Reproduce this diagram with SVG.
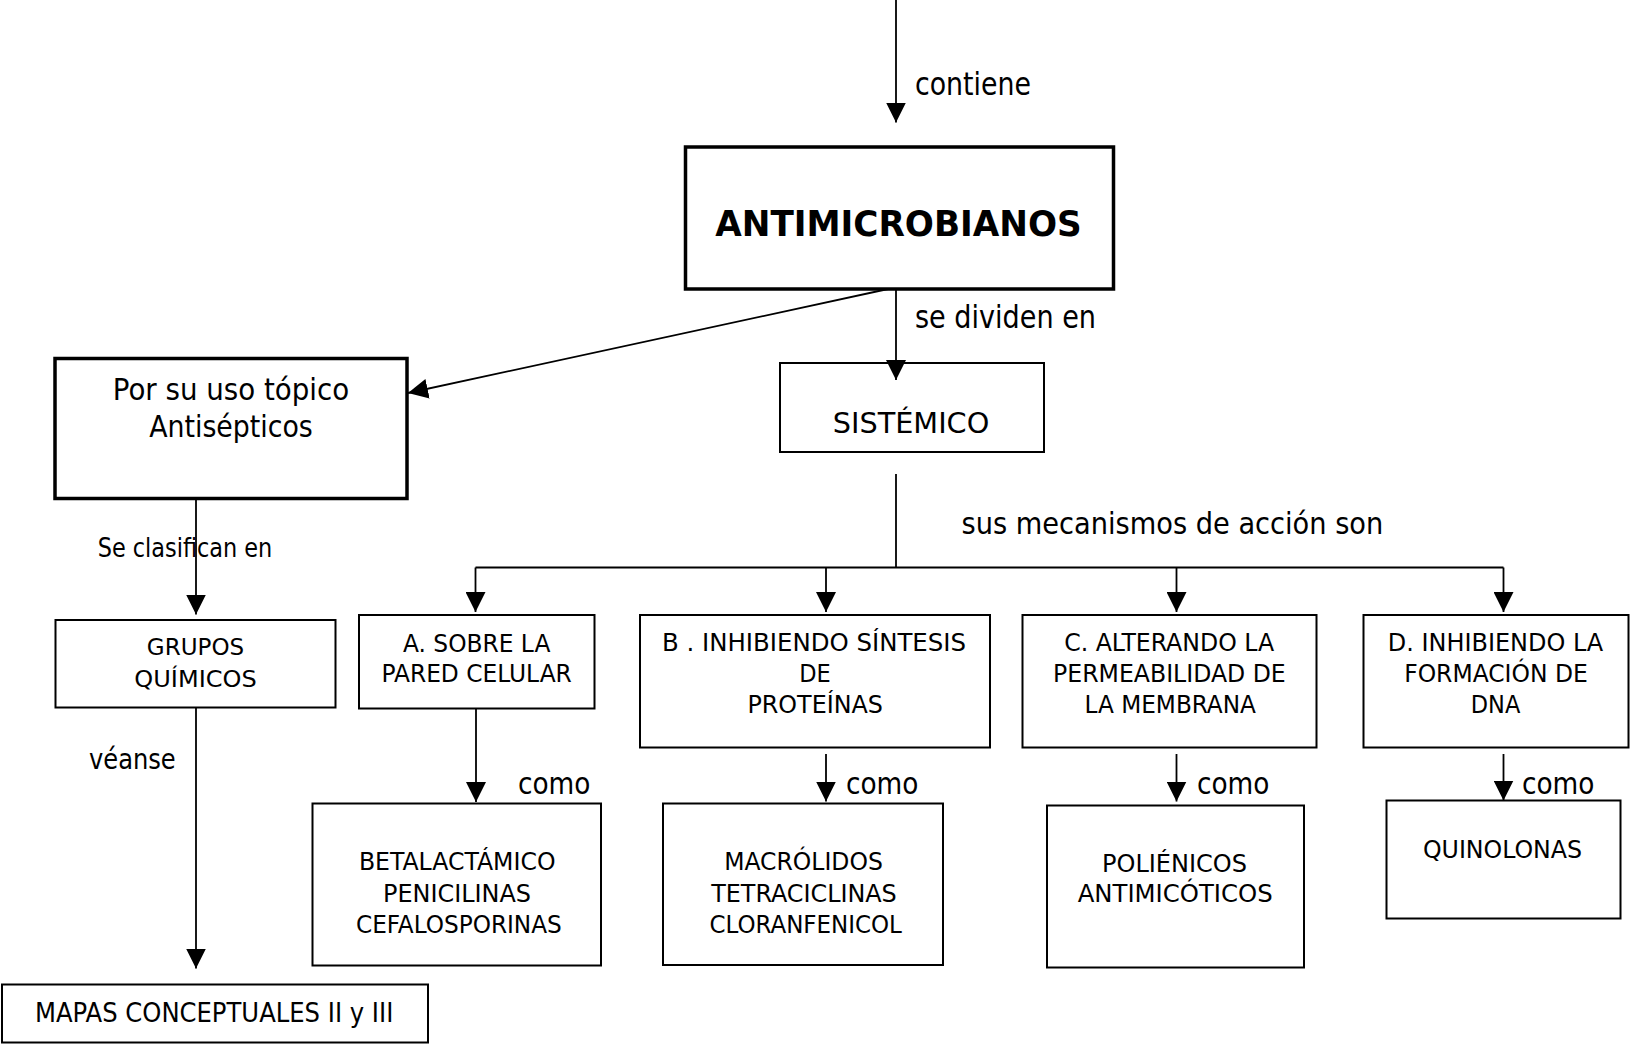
<svg xmlns="http://www.w3.org/2000/svg" width="1640" height="1044" viewBox="0 0 1640 1044">
  <style>
    .box { fill: #fff; stroke: #000; stroke-width: 2; }
    .heavy { stroke-width: 3.5; }
    .t { font-family: "DejaVu Sans Condensed", "DejaVu Sans", sans-serif; font-size: 25px; fill: #000; text-anchor: middle; }
    .lbl { font-family: "DejaVu Sans Condensed", "DejaVu Sans", sans-serif; font-size: 31px; fill: #000; }
    .wire { fill: none; stroke: #000; stroke-width: 1.8; }
  </style>
  <defs>
    <marker id="ah" markerUnits="userSpaceOnUse" markerWidth="20" markerHeight="20" viewBox="0 0 20 20" refX="20" refY="10" orient="auto">
      <path d="M0,0 L20,10 L0,20 Z" fill="#000"/>
    </marker>
  </defs>

  <rect width="1640" height="1044" fill="#fff"/>

  <g id="n-antimicrobianos">
    <rect class="box heavy" x="685.5" y="147" width="428" height="142"/>
    <text class="t" x="898.5" y="236" style="font-size:35px" font-weight="bold" textLength="366.5" lengthAdjust="spacingAndGlyphs">ANTIMICROBIANOS</text>
  </g>

  <g id="n-topico">
    <rect class="box heavy" x="55" y="358.5" width="352" height="140"/>
    <text class="t" x="231" y="400" style="font-size:29.5px" textLength="236.3" lengthAdjust="spacingAndGlyphs">Por su uso tópico</text>
    <text class="t" x="231" y="437.3" style="font-size:29.5px" textLength="163.7" lengthAdjust="spacingAndGlyphs">Antisépticos</text>
  </g>

  <g id="n-sistemico">
    <rect class="box" x="780" y="363" width="264" height="89"/>
    <text class="t" x="911" y="433.3" style="font-size:29px" textLength="156.5" lengthAdjust="spacingAndGlyphs">SISTÉMICO</text>
  </g>

  <g id="n-grupos">
    <rect class="box" x="55.5" y="620" width="280" height="87.5"/>
    <text class="t" x="195.5" y="655" style="font-size:23px" textLength="97.3" lengthAdjust="spacingAndGlyphs">GRUPOS</text>
    <text class="t" x="195.5" y="686.7" style="font-size:23px" textLength="122.4" lengthAdjust="spacingAndGlyphs">QUÍMICOS</text>
  </g>

  <g id="n-pared">
    <rect class="box" x="359" y="615" width="235.5" height="93.5"/>
    <text class="t" x="476.7" y="651.7" textLength="147.4" lengthAdjust="spacingAndGlyphs">A. SOBRE LA</text>
    <text class="t" x="476.7" y="681.7" textLength="190.3" lengthAdjust="spacingAndGlyphs">PARED CELULAR</text>
  </g>

  <g id="n-proteinas">
    <rect class="box" x="640" y="615" width="350" height="132.5"/>
    <text class="t" x="814" y="651" textLength="304" lengthAdjust="spacingAndGlyphs">B . INHIBIENDO SÍNTESIS</text>
    <text class="t" x="815" y="682">DE</text>
    <text class="t" x="815.2" y="713" textLength="135.5" lengthAdjust="spacingAndGlyphs">PROTEÍNAS</text>
  </g>

  <g id="n-membrana">
    <rect class="box" x="1022.5" y="615" width="294" height="132.5"/>
    <text class="t" x="1169.2" y="651" textLength="210" lengthAdjust="spacingAndGlyphs">C. ALTERANDO LA</text>
    <text class="t" x="1169.4" y="682" textLength="232.7" lengthAdjust="spacingAndGlyphs">PERMEABILIDAD DE</text>
    <text class="t" x="1170.2" y="713" textLength="171.4" lengthAdjust="spacingAndGlyphs">LA MEMBRANA</text>
  </g>

  <g id="n-dna">
    <rect class="box" x="1363.5" y="615" width="265" height="132.5"/>
    <text class="t" x="1495.5" y="651" textLength="215.5" lengthAdjust="spacingAndGlyphs">D. INHIBIENDO LA</text>
    <text class="t" x="1496" y="682" textLength="183.7" lengthAdjust="spacingAndGlyphs">FORMACIÓN DE</text>
    <text class="t" x="1495.5" y="713">DNA</text>
  </g>

  <g id="n-betalactamicos">
    <rect class="box" x="312.5" y="803.5" width="288.5" height="162"/>
    <text class="t" x="457.2" y="870" textLength="196.6" lengthAdjust="spacingAndGlyphs">BETALACTÁMICO</text>
    <text class="t" x="457" y="901.7" textLength="148" lengthAdjust="spacingAndGlyphs">PENICILINAS</text>
    <text class="t" x="458.9" y="932.7" textLength="205.8" lengthAdjust="spacingAndGlyphs">CEFALOSPORINAS</text>
  </g>

  <g id="n-macrolidos">
    <rect class="box" x="663" y="803.5" width="280" height="161.5"/>
    <text class="t" x="803.5" y="870" textLength="158.7" lengthAdjust="spacingAndGlyphs">MACRÓLIDOS</text>
    <text class="t" x="804" y="901.7" textLength="185.6" lengthAdjust="spacingAndGlyphs">TETRACICLINAS</text>
    <text class="t" x="805.7" y="932.7" textLength="192.4" lengthAdjust="spacingAndGlyphs">CLORANFENICOL</text>
  </g>

  <g id="n-polienicos">
    <rect class="box" x="1047" y="805.5" width="257" height="162"/>
    <text class="t" x="1174.5" y="871.7" textLength="145" lengthAdjust="spacingAndGlyphs">POLIÉNICOS</text>
    <text class="t" x="1175.2" y="902.3" textLength="195" lengthAdjust="spacingAndGlyphs">ANTIMICÓTICOS</text>
  </g>

  <g id="n-quinolonas">
    <rect class="box" x="1386.5" y="800.5" width="234" height="118"/>
    <text class="t" x="1502.5" y="858.3" textLength="159.2" lengthAdjust="spacingAndGlyphs">QUINOLONAS</text>
  </g>

  <g id="n-mapas">
    <rect class="box" x="2" y="984.5" width="426" height="58"/>
    <text class="t" x="214.2" y="1021.7" style="font-size:27px" textLength="358.3" lengthAdjust="spacingAndGlyphs">MAPAS CONCEPTUALES II y III</text>
  </g>

  <!-- connectors and their labels, drawn above the boxes -->
  <g id="connectors">
    <path class="wire" d="M896,0 V122.5" marker-end="url(#ah)"/>
    <path class="wire" d="M888,289 L408,393" marker-end="url(#ah)"/>
    <path class="wire" d="M896,289 V380" marker-end="url(#ah)"/>
    <path class="wire" d="M896,474 V567.5"/>
    <path class="wire" d="M475.5,567.5 H1503.5"/>
    <path class="wire" d="M475.5,567.5 V612" marker-end="url(#ah)"/>
    <path class="wire" d="M826,567.5 V612" marker-end="url(#ah)"/>
    <path class="wire" d="M1176.5,567.5 V612" marker-end="url(#ah)"/>
    <path class="wire" d="M1503.5,567.5 V612" marker-end="url(#ah)"/>
    <path class="wire" d="M476,708.5 V802" marker-end="url(#ah)"/>
    <path class="wire" d="M826,754 V801.5" marker-end="url(#ah)"/>
    <path class="wire" d="M1176.5,754 V801.5" marker-end="url(#ah)"/>
    <path class="wire" d="M1503.5,754 V800.5" marker-end="url(#ah)"/>
    <path class="wire" d="M196,498 V614.5" marker-end="url(#ah)"/>
    <path class="wire" d="M196,707.5 V968.5" marker-end="url(#ah)"/>

    <text class="lbl" x="915" y="94.5" style="font-size:32px" textLength="116" lengthAdjust="spacingAndGlyphs">contiene</text>
    <text class="lbl" x="915" y="328.3" style="font-size:32px" textLength="181" lengthAdjust="spacingAndGlyphs">se dividen en</text>
    <text class="lbl" x="961.5" y="534.3" style="font-size:30.5px" textLength="421.8" lengthAdjust="spacingAndGlyphs">sus mecanismos de acción son</text>
    <text class="lbl" x="97.7" y="556.7" style="font-size:26px" textLength="174.6" lengthAdjust="spacingAndGlyphs">Se clasifican en</text>
    <text class="lbl" x="89" y="769.3" style="font-size:29px" textLength="86.7" lengthAdjust="spacingAndGlyphs">véanse</text>
    <text class="lbl" x="518" y="794.3" textLength="72.4" lengthAdjust="spacingAndGlyphs">como</text>
    <text class="lbl" x="846" y="794.3" textLength="72.4" lengthAdjust="spacingAndGlyphs">como</text>
    <text class="lbl" x="1197" y="794.3" textLength="72.4" lengthAdjust="spacingAndGlyphs">como</text>
    <text class="lbl" x="1522" y="794.3" textLength="72.4" lengthAdjust="spacingAndGlyphs">como</text>
  </g>
</svg>
